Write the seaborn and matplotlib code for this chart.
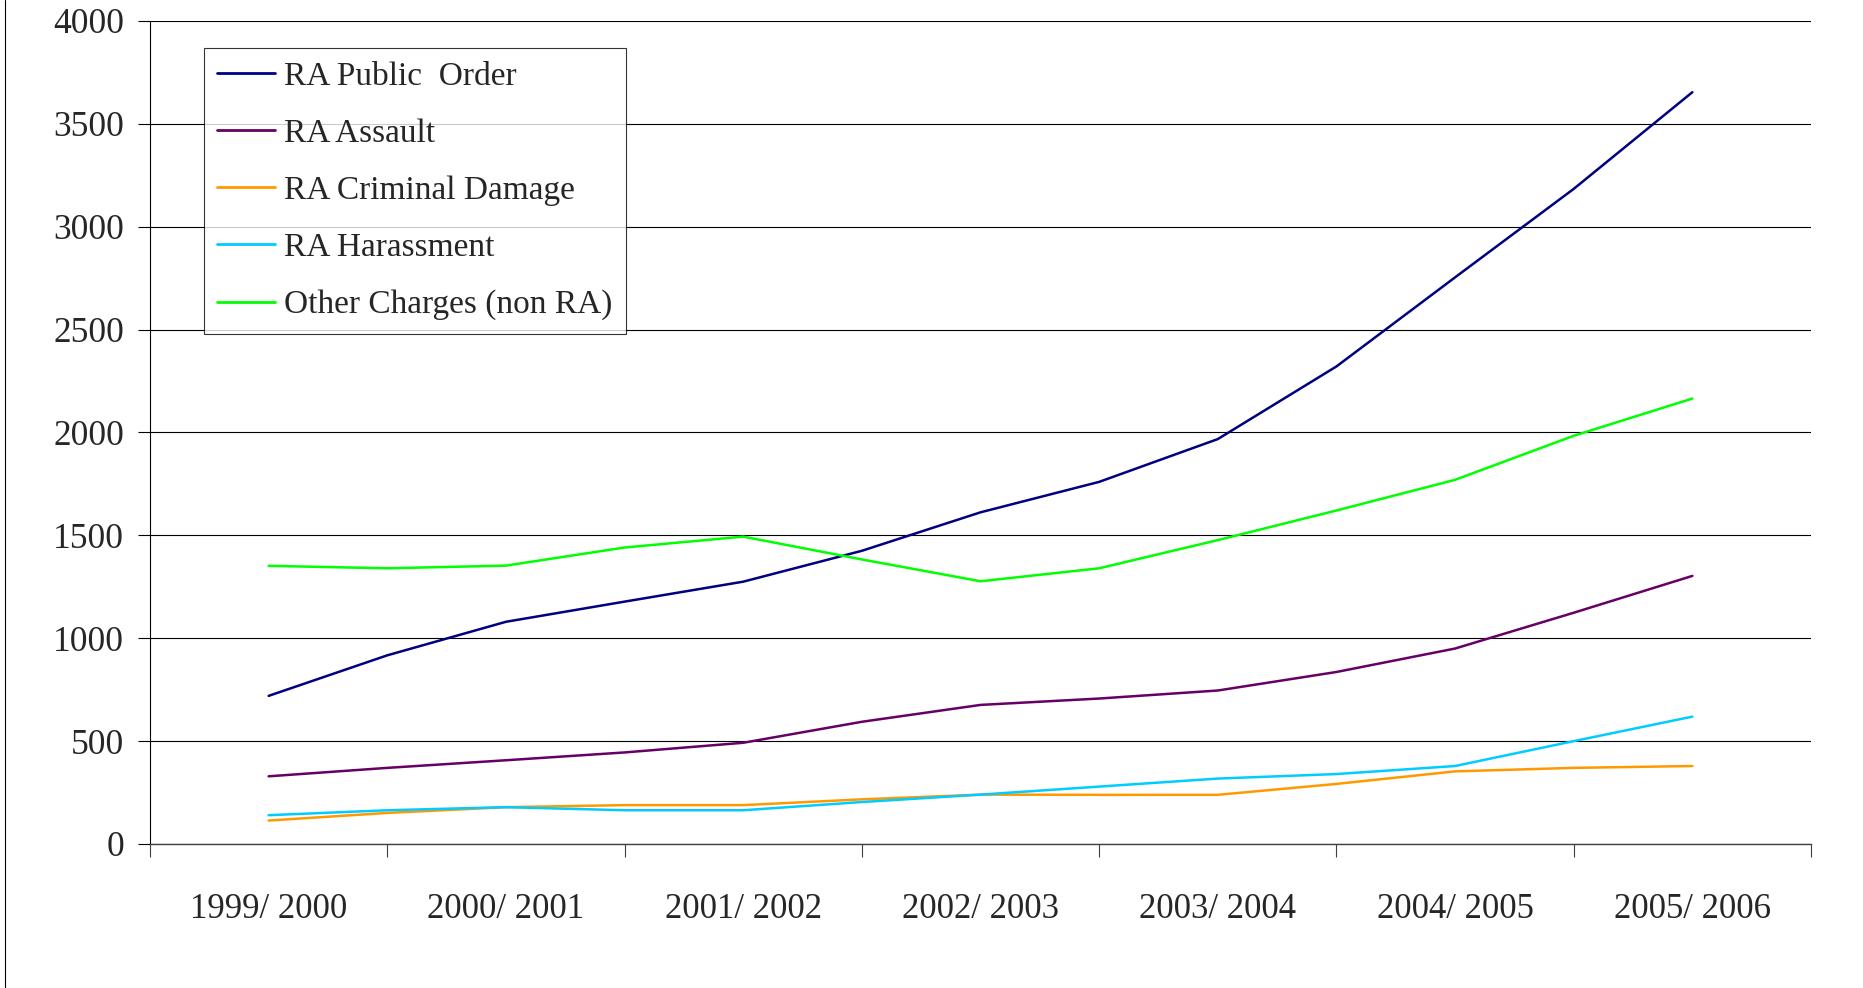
import pandas as pd
import seaborn as sns
import matplotlib.pyplot as plt
from matplotlib.lines import Line2D

sns.set_style("white")
plt.rcParams["font.family"] = ["Liberation Serif", "DejaVu Serif"]

years = ["1999/ 2000", "2000/ 2001", "2001/ 2002", "2002/ 2003",
         "2003/ 2004", "2004/ 2005", "2005/ 2006"]

# values every half year
steps = [0, 0.5, 1, 1.5, 2, 2.5, 3, 3.5, 4, 4.5, 5, 5.5, 6]
public_order = [720, 917, 1080, 1178, 1275, 1425, 1612, 1760, 1968, 2321, 2754, 3184, 3654]
assault = [329, 370, 407, 445, 492, 594, 676, 707, 746, 836, 950, 1124, 1303]
criminal_damage = [114, 151, 179, 189, 189, 217, 240, 239, 239, 292, 353, 370, 379]
harassment = [140, 164, 179, 164, 164, 204, 240, 279, 318, 340, 379, 500, 619]
other_charges = [1352, 1340, 1353, 1441, 1494, 1383, 1277, 1340, 1477, 1621, 1770, 1984, 2165]

series_names = ["RA Public  Order", "RA Assault", "RA Criminal Damage",
                "RA Harassment", "Other Charges (non RA)"]
series_values = [public_order, assault, criminal_damage, harassment, other_charges]
colors = ["#000080", "#660066", "#FF9900", "#00CCFF", "#00FF00"]

rows = []
for name, vals in zip(series_names, series_values):
    for pos, v in zip(steps, vals):
        rows.append({"pos": pos, "value": v, "series": name})
df = pd.DataFrame(rows)

fig = plt.figure(figsize=(18.63, 9.88), dpi=100)
ax = fig.add_axes([150 / 1863, 1 - 844 / 988, 1661 / 1863, 823 / 988])

sns.lineplot(data=df, x="pos", y="value", hue="series", hue_order=series_names,
             palette=colors, linewidth=1.8, ax=ax, sort=False)

ax.set_xlim(-0.5, 6.5)
ax.set_ylim(0, 4000)
ax.set_yticks(range(0, 4001, 500))
ax.yaxis.grid(True, color="black", linewidth=0.8)
ax.set_axisbelow(True)

# category boundaries get the tick marks, labels sit in between
ax.set_xticks([i - 0.5 for i in range(len(years) + 1)])
ax.set_xticklabels([])
ax.set_xticks(range(len(years)), minor=True)
ax.set_xticklabels(years, minor=True)
ax.tick_params(axis="x", which="major", length=9, width=0.8, color="#404040", direction="out", bottom=True)
ax.tick_params(axis="x", which="minor", length=0, pad=35, labelsize=25)
ax.tick_params(axis="y", length=9, width=0.8, color="black", direction="out", left=True, pad=9.5, labelsize=25.5)

for side in ["top", "right"]:
    ax.spines[side].set_visible(False)
ax.spines["left"].set_color("black")
ax.spines["left"].set_linewidth(0.8)
ax.spines["bottom"].set_color("#404040")
ax.spines["bottom"].set_linewidth(1.0)

ax.set_xlabel("")
ax.set_ylabel("")

leg = ax.legend(loc="upper left", bbox_to_anchor=(54 / 1661, 1 - 26.7 / 823),
                borderaxespad=0, fontsize=24, frameon=True, fancybox=False,
                handlelength=1.72, handletextpad=0.28, borderpad=0.4,
                labelspacing=0.8)
leg.get_frame().set_edgecolor("black")
leg.get_frame().set_linewidth(0.8)
for line in leg.get_lines():
    line.set_linewidth(2)

fig.add_artist(Line2D([4.5 / 1863, 4.5 / 1863], [0, 1], color="black", linewidth=0.8))

fig.savefig("out.png", dpi=100)
